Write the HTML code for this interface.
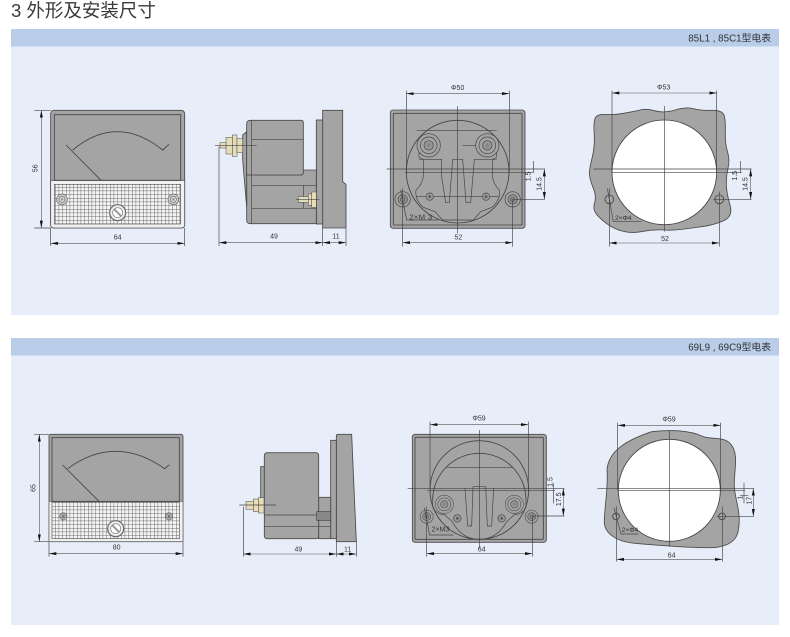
<!DOCTYPE html>
<html><head><meta charset="utf-8">
<style>
html,body{margin:0;padding:0;background:#fff}
body{width:790px;height:637px;overflow:hidden;position:relative}
svg{position:absolute;left:0;top:0}
text{font-family:"Liberation Sans","Noto Sans CJK SC",sans-serif}
.d{font-size:21px;fill:#333;text-anchor:middle}
.g{fill:#a4a4a4;stroke:#4a4a4a;stroke-width:2.6}
.w{fill:none;stroke:#444;stroke-width:2.6}
.t{fill:none;stroke:#444;stroke-width:2}
.dim{fill:none;stroke:#555;stroke-width:1.8;marker-start:url(#a);marker-end:url(#a)}
.b{fill:#e6dcb8;stroke:#555;stroke-width:1.6}
.v{filter:blur(.3px)}
</style></head><body>
<svg width="790" height="637" viewBox="0 0 790 637" xmlns="http://www.w3.org/2000/svg">
<defs>
<marker id="a" markerUnits="userSpaceOnUse" markerWidth="24" markerHeight="12" refX="22" refY="6" orient="auto-start-reverse"><path d="M22 6L0 1.5V10.5Z" fill="#111"/></marker>
<pattern id="m" width="11" height="11" patternUnits="userSpaceOnUse"><rect width="11" height="11" fill="#f4f4f4"/><path d="M0 .5H11M.5 0V11" stroke="#666" stroke-width="1.9"/></pattern>
<g id="s1"><circle r="16" fill="#ccc" stroke="#666" stroke-width="2"/><circle r="9" fill="#ddd" stroke="#666" stroke-width="2"/><circle r="4" fill="#999"/></g>
<g id="s2"><circle r="23" fill="#a4a4a4" stroke="#444" stroke-width="2"/><circle r="14" fill="#999" stroke="#444" stroke-width="2"/><circle r="7" fill="#888" stroke="#444" stroke-width="1.6"/></g>
<g id="s3"><circle r="35" fill="#a4a4a4" stroke="#444" stroke-width="2"/><circle r="25" fill="#a4a4a4" stroke="#444" stroke-width="2"/><circle r="14" fill="#999" stroke="#444" stroke-width="2"/><circle r="7" fill="#888"/></g>
<g id="s4"><circle r="11" fill="#999" stroke="#444" stroke-width="2"/><circle r="4" fill="#555"/></g>
<g id="k"><circle r="24" fill="#eee" stroke="#666" stroke-width="3.5"/><circle r="15" fill="#fff" stroke="#777" stroke-width="2"/><path d="M-10 -10L10 10" stroke="#999" stroke-width="6"/></g>
</defs>

<rect width="790" height="637" fill="#fff"/>
<text x="11" y="17" font-size="18.5" fill="#3a3a3a" xml:space="preserve">3 外形及安装尺寸</text>

<rect x="11" y="29" width="768" height="286" fill="#e8eef9"/>
<rect x="11" y="29" width="768" height="17.5" fill="#b9cde9"/>
<text x="771" y="41.5" font-size="9.8" fill="#333" text-anchor="end">85L1 , 85C1型电表</text>

<rect x="11" y="338" width="768" height="287" fill="#e8eef9"/>
<rect x="11" y="338" width="768" height="17.5" fill="#b9cde9"/>
<text x="771" y="350.5" font-size="9.8" fill="#333" text-anchor="end">69L9 , 69C9型电表</text>

<!-- Row 1 left: zoom coords -->
<g class="v" transform="scale(.33333)">
  <rect class="g" x="152" y="331" width="402" height="353" rx="10"/>
  <path d="M152 541H554V674Q554 684 544 684H162Q152 684 152 674Z" fill="#f0f0f0" stroke="#555" stroke-width="2.5"/>
  <rect class="w" x="163" y="344" width="379" height="197"/>
  <rect x="163" y="553" width="379" height="119" fill="url(#m)" stroke="#555" stroke-width="2"/>
  <path class="w" d="M218 450Q350 340 488 450L507 433M198 435L303 541"/>
  <use href="#s1" x="186" y="598"/><use href="#s1" x="520" y="598"/><use href="#k" x="353" y="638"/>
  <path class="t" d="M103 331H152M103 684H152M152 684V738M554 684V738"/>
  <path class="dim" d="M124 331V684"/><path class="dim" d="M152 730H554"/>
  <text class="d" transform="translate(113,505) rotate(-90)">56</text>
  <text class="d" x="353" y="719">64</text>

  <path class="g" d="M968 331H1028V545L1038 553V684H968Z"/>
  <rect class="g" x="949" y="360" width="19" height="312"/>
  <path class="g" d="M740 525H905V510H949V671H752Q740 671 740 660Z"/>
  <path class="g" d="M740 395L728 405V480L740 620Z"/>
  <path class="g" d="M740 372Q740 361 752 361H903Q910 361 910 368V518Q910 525 903 525H740Z"/>
  <path class="t" d="M755 361V671M755 418H910M755 556H949M755 625H949M910 556V625"/>
  <rect class="b" x="697" y="405" width="14" height="64"/><rect class="b" x="711" y="416" width="17" height="42"/><rect class="b" x="678" y="412" width="19" height="50"/><rect class="b" x="660" y="428" width="18" height="16"/>
  <rect class="b" x="895" y="590" width="30" height="17"/><rect class="b" x="925" y="582" width="10" height="34"/><rect class="b" x="935" y="576" width="14" height="46"/>
  <path class="t" d="M645 436H770M888 598H958"/>
  <path class="t" d="M657 440V738M968 684V738M1038 684V738"/>
  <path class="dim" d="M657 728H968"/><path class="dim" d="M968 728H1038"/>
  <text class="d" x="822" y="716">49</text><text class="d" x="1008" y="716">11</text>
</g>

<!-- Row 1 right -->
<g class="v" transform="translate(380,20) scale(.33333)">
  <rect class="g" x="31" y="270" width="404" height="355" rx="8"/>
  <rect class="w" x="40" y="280" width="386" height="335" rx="3"/>
  <circle class="w" cx="233" cy="455" r="154"/>
  <path class="t" d="M117 378V412L130 418V470Q125 495 108 510Q104 540 130 562L165 575L188 600H280L302 575L336 562Q362 540 358 510Q342 495 337 470V418L350 412V378"/>
  <path class="t" d="M117 418H185V470L197 548H208L218 418H248L258 548H272L283 418H350"/>
  <path class="t" d="M110 332H350M248 376H350M110 530H355"/>
  <use href="#s3" x="146" y="376"/><use href="#s3" x="322" y="376"/>
  <use href="#s4" x="149" y="530"/><use href="#s4" x="318" y="530"/>
  <use href="#s2" x="68" y="538"/><use href="#s2" x="398" y="538"/>
  <path class="t" d="M20 447H495M75 458H460M233 258V640M79 212V455M388 212V455M68 505V680M398 538V680M398 538H495M62 510L80 600H175"/>
  <path class="dim" d="M79 221H388"/><path class="dim" d="M68 668H398"/>
  <path class="dim" d="M493 447V538"/><path class="t" d="M461 423V458"/>
  <text class="d" x="233" y="210">Φ50</text><text class="d" x="235" y="658">52</text>
  <text x="88" y="599" font-size="23" fill="#333" letter-spacing="1">2×M 3</text>
  <text class="d" transform="translate(452,469) rotate(-90)">1.5</text>
  <text class="d" transform="translate(484,492) rotate(-90)">14.5</text>

  <path class="g" d="M642.5 340Q640 300 647.5 291Q655 282 677.5 283.5Q700 285 730 280Q760 275 780 270Q800 265 825 272.5Q850 280 885 270Q920 260 940 266Q960 272 995 271Q1030 270 1033.5 290Q1037 310 1036 340Q1035 370 1042.5 395Q1050 420 1044 445Q1038 470 1039 495Q1040 520 1050 555Q1060 590 1030 602.5Q1000 615 975 618.5Q950 622 915 627Q880 632 850 630Q820 628 790 634Q760 640 735 635Q710 630 690 617.5Q670 605 653.5 587.5Q637 570 643.5 550Q650 530 640 505Q630 480 628.5 465Q627 450 636 415Q645 380 642.5 340Z"/>
  <circle cx="853" cy="457" r="157" fill="#fff" stroke="#444" stroke-width="2.6"/>
  <circle class="w" cx="688" cy="538" r="13"/><circle class="w" cx="1018" cy="538" r="13"/>
  <path class="t" d="M640 447H1115M695 458H1085M853 258V635M696 212V457M1010 212V457M688 505V680M1018 515V680M1000 538H1115M682 505L700 605H785"/>
  <path class="dim" d="M696 219H1010"/><path class="dim" d="M688 669H1018"/>
  <path class="dim" d="M1112 447V538"/><path class="t" d="M1081 423V458"/>
  <text class="d" x="851" y="209">Φ53</text><text class="d" x="855" y="663">52</text>
  <text x="705" y="600" font-size="20" fill="#333">2×Φ4</text>
  <text class="d" transform="translate(1071,467) rotate(-90)">1.5</text>
  <text class="d" transform="translate(1102,492) rotate(-90)">14.5</text>
</g>

<!-- Row 2 left -->
<g class="v" transform="translate(0,330) scale(.33333)">
  <rect class="g" x="147" y="313" width="402" height="322" rx="6"/>
  <path d="M147 514H549V635H147Z" fill="#f0f0f0" stroke="#666" stroke-width="2.2"/>
  <rect class="w" x="156" y="323" width="382" height="191"/>
  <rect x="156" y="516" width="382" height="110" fill="url(#m)" stroke="#555" stroke-width="2"/>
  <path class="w" d="M203 416Q345 312 494 416L508 404M188 405L297 514"/>
  <use href="#s4" x="190" y="559" style="opacity:.75"/><use href="#s4" x="507" y="559" style="opacity:.75"/><use href="#k" x="347" y="596"/>
  <path class="t" d="M103 313H147M103 635H147M147 635V680M549 635V680"/>
  <path class="dim" d="M118 313V635"/><path class="dim" d="M147 671H549"/>
  <text class="d" transform="translate(106,474) rotate(-90)">65</text>
  <text class="d" x="350" y="658">80</text>

  <path class="g" d="M1009 318Q1009 313 1015 313H1055L1069 635H1009Z"/>
  <rect class="g" x="992" y="331" width="17" height="295"/>
  <rect class="g" x="956" y="502" width="36" height="124"/>
  <rect class="g" x="782" y="410" width="11" height="120"/>
  <rect class="g" x="793" y="368" width="163" height="258" rx="8"/>
  <path class="t" d="M793 555H992M793 590H992"/>
  <rect class="b" x="775" y="503" width="17" height="46"/><rect class="b" x="760" y="507" width="15" height="38"/><rect class="b" x="738" y="514" width="22" height="24"/>
  <rect x="950" y="545" width="42" height="26" fill="#888" stroke="#444" stroke-width="2"/>
  <path class="t" d="M718 525H828M730 530V680M1009 635V680M1069 635V680"/>
  <path class="dim" d="M730 672H1009"/><path class="dim" d="M1009 672H1069"/>
  <text class="d" x="895" y="665">49</text><text class="d" x="1043" y="664">11</text>
</g>

<!-- Row 2 right -->
<g class="v" transform="translate(395,330) scale(.33333)">
  <rect class="g" x="52" y="313" width="402" height="324" rx="8"/>
  <rect class="w" x="60" y="322" width="385" height="306" rx="3"/>
  <circle class="w" cx="253" cy="480" r="148"/>
  <path class="w" d="M113 510A140 140 0 0 1 393 510"/>
  <path class="t" d="M155 413H352M113 510V530Q118 550 150 555L172 575Q200 628 253 628Q306 628 335 575L357 555Q388 550 393 530V510"/>
  <path class="t" d="M210 475L218 588H230L234 470H272L277 588H290L296 475"/>
  <use href="#s3" transform="translate(148,523) scale(.78)"/><use href="#s3" transform="translate(358,523) scale(.78)"/>
  <use href="#s4" x="187" y="565"/><use href="#s4" x="320" y="565"/>
  <use href="#s2" transform="translate(95,560) scale(.85)"/><use href="#s2" transform="translate(410,560) scale(.85)"/>
  <path class="t" d="M38 475H508M97 482H480M253 300V655M105 275V480M400 275V480M95 530V680M412 560V680M410 558H508M88 533L104 615H175"/>
  <path class="dim" d="M105 284H400"/><path class="dim" d="M95 671H412"/>
  <path class="dim" d="M505 475V558"/><path class="t" d="M476 460V520"/>
  <text class="d" x="252" y="272">Φ59</text><text class="d" x="260" y="665">64</text>
  <text x="110" y="605" font-size="21" fill="#333">2×M3</text>
  <text class="d" transform="translate(473,456) rotate(-90)">1.5</text>
  <text class="d" transform="translate(498,508) rotate(-90)">17.5</text>

  <path class="g" d="M636 420C640 370 680 335 770 305C820 300 880 298 925 320C950 328 985 320 1005 340C1035 370 1015 430 1018 470C1020 510 1040 550 1030 600C1025 640 985 655 930 653C860 652 780 645 720 640C665 635 625 610 628 570C630 520 640 470 636 420Z"/>
  <circle cx="823" cy="481" r="153" fill="#fff" stroke="#444" stroke-width="2.6"/>
  <circle class="w" cx="663" cy="559" r="10"/><circle class="w" cx="981" cy="559" r="10"/>
  <path class="t" d="M607 475H1077M670 482H1050M823 303V650M668 278V481M977 278V481M665 530V695M982 530V695M965 559H1077M657 533L678 612H730"/>
  <path class="dim" d="M668 286H977"/><path class="dim" d="M665 688H982"/>
  <path class="dim" d="M1075 475V559"/><path class="t" d="M1047 458V520M1035 497H1060"/>
  <text class="d" x="822" y="275">Φ59</text><text class="d" x="830" y="682">64</text>
  <text x="680" y="606" font-size="20" fill="#333">2×Φ4</text>
  <text class="d" transform="translate(1042,503) rotate(-90)">1</text>
  <text class="d" transform="translate(1069,512) rotate(-90)">17</text>
</g>
</svg>
</body></html>
